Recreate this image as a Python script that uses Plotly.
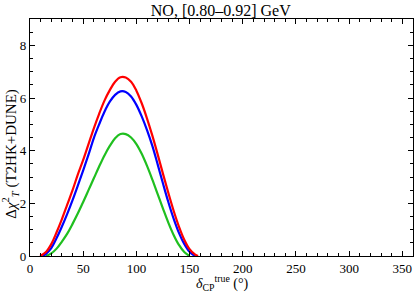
import plotly.graph_objects as go

# delta_CP true (degrees) and Delta chi^2 values
x_red = [9.5, 15, 20, 25, 30, 35, 40, 45, 50, 55, 60, 65, 70, 75, 80, 85, 90,
         95, 100, 105, 110, 115, 120, 125, 130, 135, 140, 145, 150, 155, 158]
y_red = [0.0, 0.15, 0.45, 0.90, 1.40, 1.95, 2.50, 3.10, 3.65, 4.25, 4.85, 5.40,
         5.90, 6.30, 6.62, 6.79, 6.78, 6.62, 6.28, 5.80, 5.22, 4.57, 3.86, 3.12,
         2.40, 1.72, 1.12, 0.62, 0.26, 0.06, 0.0]

x_blue = [12, 15, 20, 25, 30, 35, 40, 45, 50, 55, 60, 65, 70, 75, 80, 85, 90,
          95, 100, 105, 110, 115, 120, 125, 130, 135, 140, 145, 150, 155]
y_blue = [0.0, 0.08, 0.30, 0.68, 1.12, 1.60, 2.12, 2.68, 3.25, 3.85, 4.48, 5.00,
          5.48, 5.86, 6.12, 6.25, 6.23, 6.06, 5.74, 5.30, 4.78, 4.18, 3.48, 2.75,
          2.05, 1.42, 0.88, 0.46, 0.16, 0.0]

x_green = [15, 20, 25, 30, 35, 40, 45, 50, 55, 60, 65, 70, 75, 80, 85, 90,
           95, 100, 105, 110, 115, 120, 125, 130, 135, 140, 145, 150]
y_green = [0.0, 0.10, 0.28, 0.55, 0.85, 1.22, 1.62, 2.05, 2.50, 2.95, 3.40,
           3.82, 4.18, 4.47, 4.63, 4.63, 4.50, 4.25, 3.88, 3.42, 2.90, 2.35,
           1.80, 1.27, 0.80, 0.42, 0.15, 0.0]

x_ticks = [0, 50, 100, 150, 200, 250, 300, 350]
y_ticks = [0, 2, 4, 6, 8]

series = [
    (x_green, y_green, "#1fbf1f"),
    (x_blue, y_blue, "#0000ff"),
    (x_red, y_red, "#ff0000"),
]

fig = go.Figure()
for xs, ys, col in series:
    fig.add_trace(go.Scatter(x=xs, y=ys, mode="lines",
                             line=dict(color=col, width=2.2, shape="spline"),
                             showlegend=False, hoverinfo="skip"))

font = "Liberation Serif, DejaVu Serif, serif"
axis_common = dict(showgrid=False, zeroline=False, showline=True, linecolor="black",
                   linewidth=1.3, mirror="allticks", ticks="inside", tickcolor="black",
                   ticklen=5, tickwidth=1.2, automargin=False,
                   tickfont=dict(family=font, size=13, color="black"))

fig.update_layout(
    width=415, height=294,
    margin=dict(l=30, r=2, t=19, b=38, autoexpand=False),
    paper_bgcolor="white", plot_bgcolor="white",
    title=dict(text="NO, [0.80–0.92] GeV", x=0.532, xanchor="center", y=0.966,
               yanchor="middle", font=dict(family=font, size=16, color="black")),
    xaxis=dict(range=[0, 360], tickvals=x_ticks,
               minor=dict(dtick=10, ticks="inside", ticklen=3, tickcolor="black", tickwidth=1),
               **axis_common),
    yaxis=dict(range=[0, 9], tickvals=y_ticks,
               minor=dict(dtick=0.5, ticks="inside", ticklen=3, tickcolor="black", tickwidth=1),
               **axis_common),
    annotations=[
        dict(text="<i>δ</i><sub>CP</sub><sup>true</sup> (°)", xref="paper", yref="paper",
             x=0.5, y=-0.112, xanchor="center", yanchor="middle", showarrow=False,
             font=dict(family=font, size=14, color="black")),
        dict(text="Δ<i>χ</i><sup>2</sup><sub><i>T</i></sub> (T2HK+DUNE)", xref="paper", yref="paper",
             x=-0.052, y=0.432, xanchor="center", yanchor="middle", textangle=-90, showarrow=False,
             font=dict(family=font, size=15, color="black")),
    ],
)

fig.write_html("out.html", config={"displayModeBar": False},
               post_script="document.body.style.margin='0';document.body.style.overflow='hidden';")
